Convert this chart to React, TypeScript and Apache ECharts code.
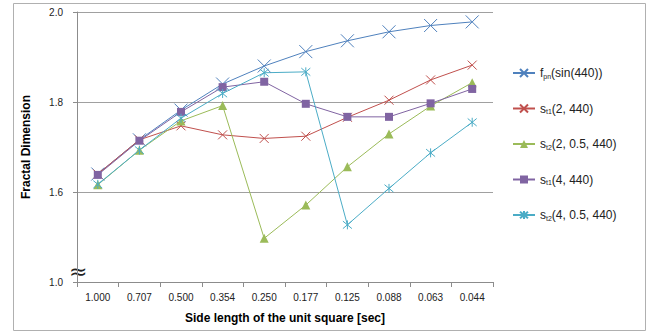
import React, { useEffect, useRef } from "react";
import * as echarts from "echarts";

const categories = ["1.000", "0.707", "0.500", "0.354", "0.250", "0.177", "0.125", "0.088", "0.063", "0.044"];
const fpnSin = [1.64, 1.716, 1.782, 1.84, 1.88, 1.912, 1.936, 1.956, 1.970, 1.978];
const st1_2 = [1.64, 1.716, 1.747, 1.727, 1.719, 1.724, 1.766, 1.804, 1.849, 1.882];
const st2_2 = [1.616, 1.693, 1.758, 1.792, 1.497, 1.571, 1.656, 1.729, 1.791, 1.843];
const st1_4 = [1.638, 1.714, 1.778, 1.833, 1.845, 1.796, 1.767, 1.767, 1.797, 1.829];
const st2_4 = [1.617, 1.693, 1.764, 1.819, 1.865, 1.867, 1.527, 1.608, 1.687, 1.755];
const seriesNames = ["fpn", "st1_2", "st2_2", "st1_4", "st2_4"];
const legendLabels = [
  "f{sub|pn}(sin(440))",
  "s{sub|t1}(2, 440)",
  "s{sub|t2}(2, 0.5, 440)",
  "s{sub|t1}(4, 440)",
  "s{sub|t2}(4, 0.5, 440)",
];
// y axis is broken: the bottom tick (drawn at 1.4) is labelled 1.0
const yTickValues = [1.4, 1.6, 1.8, 2.0];
const yTickLabels = ["1.0", "1.6", "1.8", "2.0"];

const FONT = "'Liberation Sans', Arial, Helvetica, sans-serif";
const X_PATH = "path://M0 0L10 10M10 0L0 10";
const STAR_PATH = "path://M0 0L10 10M10 0L0 10M5 -1L5 11";

export default function App() {
  const ref = useRef<HTMLDivElement>(null);
  useEffect(() => {
    if (!ref.current) return;
    document.body.style.margin = "0";
    const chart = echarts.init(ref.current, null, { renderer: "svg" });
    const colors = ["#4f81bd", "#c0504d", "#9bbb59", "#8064a2", "#4bacc6"];
    const datas = [fpnSin, st1_2, st2_2, st1_4, st2_4];
    const symbols = [X_PATH, X_PATH, "triangle", "rect", STAR_PATH];
    const sizes = [13, 9, 9, 8, 9];
    const series = datas.map((d, i) => {
      const stroked = symbols[i].startsWith("path://");
      return {
        name: seriesNames[i],
        type: "line",
        data: d,
        symbol: symbols[i],
        symbolSize: sizes[i],
        showAllSymbol: true,
        lineStyle: { color: colors[i], width: 1 },
        itemStyle: stroked
          ? { color: colors[i], borderColor: colors[i], borderWidth: 1 }
          : { color: colors[i], borderWidth: 0 },
        emphasis: { disabled: true },
      };
    });
    chart.setOption({
      animation: false,
      textStyle: { fontFamily: FONT },
      grid: { left: 77, right: 157, top: 12, bottom: 50, containLabel: false },
      xAxis: {
        type: "category",
        data: categories,
        boundaryGap: true,
        name: "Side length of the unit square [sec]",
        nameLocation: "middle",
        nameGap: 30,
        nameTextStyle: { fontFamily: FONT, fontWeight: "bold", fontSize: 12, color: "#000" },
        axisLine: { lineStyle: { color: "#8c8c8c", width: 1 } },
        axisTick: { show: true, alignWithLabel: false, length: 5, lineStyle: { color: "#8c8c8c" } },
        axisLabel: { fontFamily: FONT, fontSize: 10, color: "#222", margin: 10 },
        splitLine: { show: false },
      },
      yAxis: {
        type: "value",
        min: 1.4,
        max: 2.0,
        interval: 0.2,
        name: "Fractal Dimension",
        nameLocation: "middle",
        nameGap: 45,
        nameTextStyle: { fontFamily: FONT, fontWeight: "bold", fontSize: 12, color: "#000" },
        axisLine: { show: true, lineStyle: { color: "#8c8c8c", width: 1 } },
        axisTick: { show: true, length: 4, lineStyle: { color: "#8c8c8c" } },
        axisLabel: {
          fontFamily: FONT,
          fontSize: 10,
          color: "#222",
          margin: 14,
          formatter: (v: number) => {
            const idx = yTickValues.findIndex((t) => Math.abs(t - v) < 1e-6);
            return idx >= 0 ? yTickLabels[idx] : "";
          },
        },
        splitLine: { show: true, lineStyle: { color: "#a0a0a0", width: 1 } },
      },
      legend: {
        orient: "vertical",
        left: 507,
        top: 62,
        itemWidth: 22,
        itemHeight: 10,
        itemGap: 23,
        data: seriesNames,
        formatter: (name: string) => legendLabels[seriesNames.indexOf(name)],
        textStyle: {
          fontFamily: FONT,
          fontSize: 12,
          color: "#222",
          rich: {
            sub: { fontSize: 7, fontFamily: FONT, color: "#222", verticalAlign: "bottom", padding: [6, 0, 0, 0] },
          },
        },
      },
      graphic: [
        {
          type: "rect",
          shape: { x: 13.5, y: 3.5, width: 632, height: 327 },
          style: { fill: "none", stroke: "#b0b0b0", lineWidth: 1 },
          silent: true,
          z: -1,
        },
        {
          type: "text",
          x: 69,
          y: 260,
          style: { text: "\u2248", fontSize: 22, fill: "#222", fontFamily: "'DejaVu Sans', sans-serif" },
          silent: true,
        },
      ],
      series,
    });
    return () => chart.dispose();
  }, []);
  return <div ref={ref} style={{ width: 650, height: 332 }} />;
}
